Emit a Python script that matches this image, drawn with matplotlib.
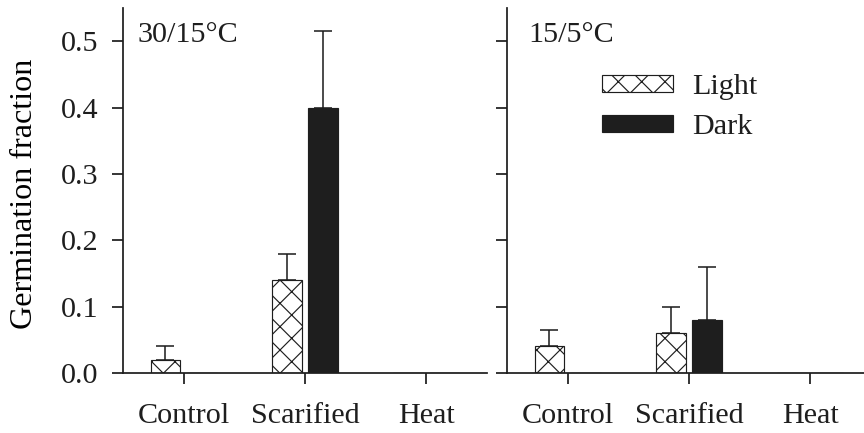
import numpy as np
import matplotlib
matplotlib.use('Agg')
from matplotlib import pyplot as plt

#------------------------------------------------------------
# Data
categories = ['Control', 'Scarified', 'Heat']
panels = ['30/15°C', '15/5°C']

warm_light = [0.02, 0.14, 0.0]
warm_light_err = [0.02, 0.04, 0.0]
warm_dark = [0.0, 0.40, 0.0]
warm_dark_err = [0.0, 0.115, 0.0]

cool_light = [0.04, 0.06, 0.0]
cool_light_err = [0.025, 0.04, 0.0]
cool_dark = [0.0, 0.08, 0.0]
cool_dark_err = [0.0, 0.08, 0.0]

yticks = [0.0, 0.1, 0.2, 0.3, 0.4, 0.5]

#------------------------------------------------------------
plt.rcParams['font.family'] = ['Liberation Serif', 'DejaVu Serif']
plt.rcParams['font.size'] = 15.5
plt.rcParams['hatch.linewidth'] = 0.6
plt.rcParams['text.color'] = '#1e1e1e'
plt.rcParams['xtick.color'] = '#1e1e1e'
plt.rcParams['ytick.color'] = '#1e1e1e'

ink = '#1e1e1e'
dpi = 140
fig = plt.figure(figsize=(864 / dpi, 433 / dpi), dpi=dpi)

w, h = 364 / 864, 365 / 433
bottom = 60 / 433
ax1 = fig.add_axes([123 / 864, bottom, w, h])
ax2 = fig.add_axes([507 / 864, bottom, w, h])

data = [(warm_light, warm_light_err, warm_dark, warm_dark_err),
        (cool_light, cool_light_err, cool_dark, cool_dark_err)]

x = np.arange(len(categories))
bw = 0.245
off = 0.15

for ax, (lt, lt_err, dk, dk_err), title in zip([ax1, ax2], data, panels):
    ax.bar(x - off, lt, bw, facecolor='white', edgecolor=ink,
           hatch='xx', linewidth=0.6, label='Light', zorder=2)
    ax.bar(x + off, dk, bw, facecolor=ink, edgecolor=ink,
           linewidth=0.6, label='Dark', zorder=2)

    for xs, vals, errs in [(x - off, lt, lt_err), (x + off, dk, dk_err)]:
        vals = np.array(vals)
        errs = np.array(errs)
        m = errs > 0
        ax.errorbar(xs[m], vals[m], yerr=[np.zeros(m.sum()), errs[m]],
                    fmt='none', ecolor=ink, elinewidth=0.8, capsize=4.5,
                    capthick=0.8, zorder=1)

    ax.set_xlim(-0.5, 2.5)
    ax.set_ylim(0, 0.55)
    ax.set_xticks(x)
    ax.set_xticklabels(categories)
    ax.set_yticks(yticks)
    for s in ['top', 'right']:
        ax.spines[s].set_visible(False)
    for s in ['left', 'bottom']:
        ax.spines[s].set_linewidth(0.9)
        ax.spines[s].set_color(ink)
    ax.tick_params(direction='out', length=5.5, width=0.9, pad=7)
    ax.tick_params(axis='x', pad=10)
    ax.text(0.04 if ax is ax1 else 0.058, 0.907, title,
            transform=ax.transAxes, ha='left', va='baseline')

ax1.set_yticklabels(['%.1f' % t for t in yticks])
ax2.set_yticklabels([])
ax1.set_ylabel('Germination fraction', fontsize=16.5)
ax1.yaxis.set_label_coords(-0.23, 0.49)

ax2.legend(loc='upper left', bbox_to_anchor=(0.261, 0.818),
           frameon=False, borderpad=0, borderaxespad=0,
           handlelength=2.37, handleheight=0.5, handletextpad=0.63,
           labelspacing=0.45)

fig.savefig('out.png', dpi=dpi)
